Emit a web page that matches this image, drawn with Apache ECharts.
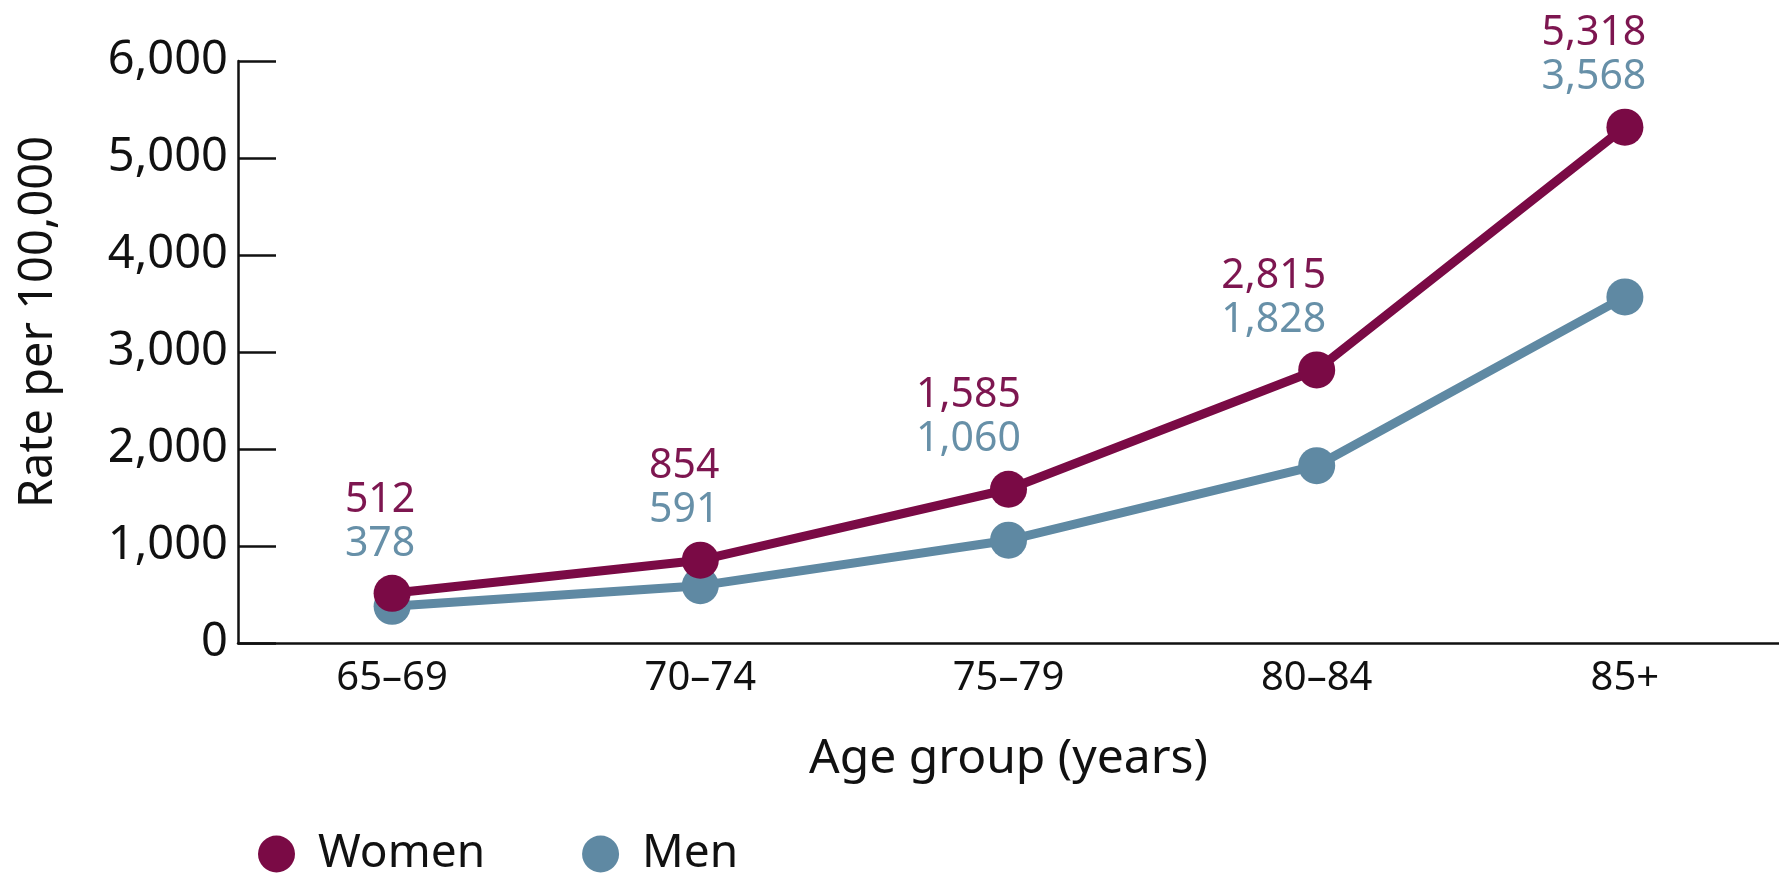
<!DOCTYPE html>
<html>
<head>
<meta charset="utf-8">
<script src="https://cdn.jsdelivr.net/npm/echarts@6/dist/echarts.min.js"></script>
<style>
html,body{margin:0;padding:0;background:#fff;}
#chart{width:1779px;height:875px;}
</style>
</head>
<body>
<div id="chart"></div>
<script>
const categories = ['65–69', '70–74', '75–79', '80–84', '85+'];
const women = [512, 854, 1585, 2815, 5318];
const men = [378, 591, 1060, 1828, 3568];
const yTicks = [0, 1000, 2000, 3000, 4000, 5000, 6000];

const WOMEN_COLOR = '#7a0a45';
const MEN_COLOR = '#5f89a3';
const FONT = 'Noto Sans';

const fmt = v => v.toLocaleString('en-US');

// horizontal nudges of the value labels (presentation only)
const labelNudge = [-12, -16, -40, -43, -31];

const chart = echarts.init(document.getElementById('chart'), null, {renderer: 'canvas'});
chart.setOption({
  animation: false,
  backgroundColor: '#ffffff',
  grid: {left: 238, right: 0, top: 61, bottom: 232, containLabel: false},
  legend: {
    data: ['Women', 'Men'],
    left: 253,
    top: 826,
    icon: 'circle',
    itemWidth: 37,
    itemHeight: 37,
    itemGap: 97,
    textStyle: {fontFamily: FONT, fontSize: 46, color: '#111', padding: [0, 0, 0, 18]}
  },
  xAxis: {
    type: 'category',
    data: categories,
    boundaryGap: true,
    name: 'Age group (years)',
    nameLocation: 'middle',
    nameGap: 92,
    nameTextStyle: {fontFamily: FONT, fontSize: 48, color: '#111'},
    axisLine: {lineStyle: {color: '#111', width: 2.5}},
    axisTick: {inside: true, length: 13, lineStyle: {color: '#111', width: 2.5}},
    axisLabel: {fontFamily: FONT, fontSize: 40, color: '#111', margin: 16}
  },
  yAxis: {
    type: 'value',
    min: yTicks[0],
    max: yTicks[yTicks.length - 1],
    interval: 1000,
    name: 'Rate per 100,000',
    nameLocation: 'middle',
    nameGap: 176,
    nameRotate: 90,
    nameTextStyle: {fontFamily: FONT, fontSize: 47, color: '#111', padding: [0, 0, 0, 60]},
    splitLine: {show: false},
    axisLine: {show: true, lineStyle: {color: '#111', width: 2.5}},
    axisTick: {show: true, inside: true, length: 38, lineStyle: {color: '#111', width: 2.5}},
    axisLabel: {
      fontFamily: FONT, fontSize: 47, color: '#111', margin: 10,
      padding: [10, 0, 0, 0],
      formatter: v => fmt(v)
    }
  },
  series: [
    {
      name: 'Men',
      type: 'line',
      data: men,
      symbol: 'circle',
      symbolSize: 37,
      itemStyle: {color: MEN_COLOR},
      lineStyle: {color: MEN_COLOR, width: 9},
      z: 2
    },
    {
      name: 'Women',
      type: 'line',
      data: women.map((v, i) => ({value: v, label: {offset: [labelNudge[i], 0]}})),
      symbol: 'circle',
      symbolSize: 37,
      itemStyle: {color: WOMEN_COLOR},
      lineStyle: {color: WOMEN_COLOR, width: 9},
      z: 3,
      label: {
        show: true,
        position: 'top',
        distance: 9,
        formatter: p => '{w|' + fmt(women[p.dataIndex]) + '}\n{m|' + fmt(men[p.dataIndex]) + '}',
        rich: {
          w: {fontFamily: FONT, fontSize: 41, color: '#7d1650', lineHeight: 44, align: 'center'},
          m: {fontFamily: FONT, fontSize: 41, color: '#6790a8', lineHeight: 44, align: 'center'}
        }
      }
    }
  ]
});
</script>
</body>
</html>
